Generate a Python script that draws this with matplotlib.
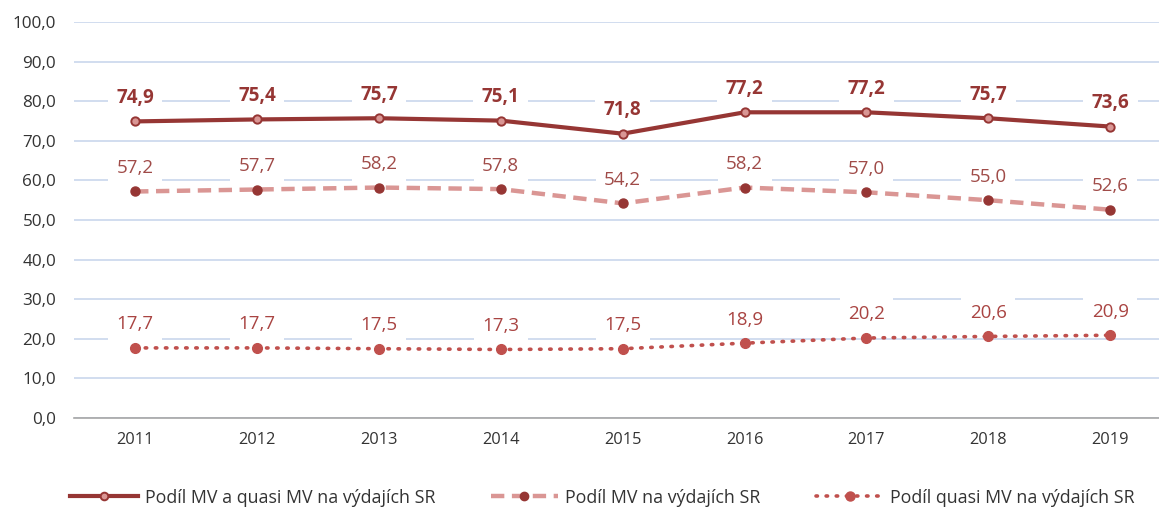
import matplotlib
matplotlib.use('Agg')
import matplotlib.pyplot as plt
from matplotlib.lines import Line2D

# ===== 数据 =====
years = ['2011', '2012', '2013', '2014', '2015', '2016', '2017', '2018', '2019']
mv_quasi = [74.9, 75.4, 75.7, 75.1, 71.8, 77.2, 77.2, 75.7, 73.6]
mv_only = [57.2, 57.7, 58.2, 57.8, 54.2, 58.2, 57.0, 55.0, 52.6]
quasi_only = [17.7, 17.7, 17.5, 17.3, 17.5, 18.9, 20.2, 20.6, 20.9]
y_ticks = [0, 10, 20, 30, 40, 50, 60, 70, 80, 90, 100]

names = ['Podíl MV a quasi MV na výdajích SR',
         'Podíl MV na výdajích SR',
         'Podíl quasi MV na výdajích SR']

plt.rcParams['font.family'] = ['Open Sans', 'DejaVu Sans']

def fmt(v):
    return f'{v:.1f}'.replace('.', ',')

fig = plt.figure(figsize=(11.59, 5.12), dpi=100)
ax = fig.add_axes([0.064, 0.1836, 0.936, 0.7734])
x = list(range(len(years)))

c_dark = '#963634'
c_pink = '#DA9694'
c_red = '#C0504D'

solid_style = dict(color=c_dark, lw=3.0, marker='o', mfc='#D99694', mec=c_dark, mew=1.4)
dash_style = dict(color=c_pink, lw=3.2, ls=(0, (3.0, 1.7)), marker='o',
                  mfc=c_dark, mec=c_dark)
dot_style = dict(color=c_red, lw=2.6, ls=(0, (0.4, 2.4)), dash_capstyle='round',
                 marker='o', mfc=c_red, mec=c_red)

# 线条
ax.plot(x, mv_quasi, ms=6, zorder=4, **solid_style)
ax.plot(x, mv_only, ms=6.5, zorder=4, **dash_style)
ax.plot(x, quasi_only, ms=7, zorder=4, **dot_style)

# 数据标签
box = dict(boxstyle='square,pad=0.45', fc='white', ec='none')
label_sets = [
    (mv_quasi, c_dark, 'bold'),
    (mv_only, '#A04B48', 'normal'),
    (quasi_only, '#A94442', 'normal'),
]
for vals, col, weight in label_sets:
    for xi, v in zip(x, vals):
        ax.annotate(fmt(v), (xi, v), xytext=(0, 17), textcoords='offset points',
                    ha='center', va='center', fontsize=13.5, fontweight=weight,
                    color=col, bbox=box, zorder=3)

ax.set_xlim(-0.5, 8.4)
ax.set_ylim(0, 100)
ax.set_yticks(y_ticks)
ax.set_yticklabels([fmt(t) for t in y_ticks])
ax.set_xticks(x)
ax.set_xticklabels(years)
ax.tick_params(axis='both', length=0, labelsize=11.8, colors='#333333', pad=10)
ax.tick_params(axis='y', labelsize=12.3, pad=13)
ax.grid(axis='y', color='#C9D7EC', lw=1.2, zorder=0)
ax.set_axisbelow(True)
for s in ['top', 'right', 'left']:
    ax.spines[s].set_visible(False)
ax.spines['bottom'].set_color('#A6A6A6')
ax.spines['bottom'].set_linewidth(1.2)

handles = [
    Line2D([], [], ms=5.5, **solid_style),
    Line2D([], [], ms=6, **dash_style),
    Line2D([], [], ms=6.5, **dot_style),
]
fig.legend(handles, names, loc='center', bbox_to_anchor=(0.52, 0.028), ncol=3,
           frameon=False, fontsize=12.8, handlelength=3.8, handletextpad=0.4,
           columnspacing=3.1, labelcolor='#333333')

fig.savefig('out.png', dpi=100)
